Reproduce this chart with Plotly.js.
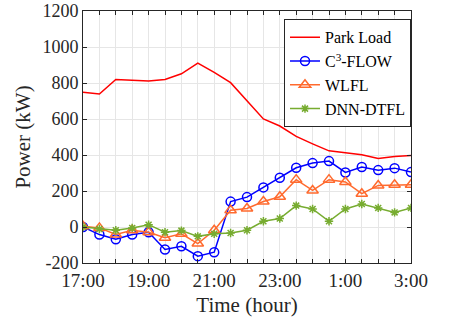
<!DOCTYPE html>
<html>
<head>
<meta charset="utf-8">
<script src="https://cdn.plot.ly/plotly-3.0.1.min.js"></script>
<style>html,body{margin:0;padding:0;background:#fff;}#chart{width:450px;height:323px;}</style>
</head>
<body>
<div id="chart"></div>
<script>
// Time in hours from 17:00 (17 = 17:00, 27 = 3:00 next day)
const hours = [17,17.5,18,18.5,19,19.5,20,20.5,21,21.5,22,22.5,23,23.5,24,24.5,25,25.5,26,26.5,27];
const parkLoad = [748,739,820,817,811,820,851,911,859,802,701,600,561,503,462,423,412,401,381,392,397];
const c3Flow   = [0,-42,-68,-42,-29,-125,-107,-162,-140,141,166,220,274,329,355,366,303,333,316,327,305];
const wlfl     = [4,-5,-42,-18,-29,-60,-38,-92,-18,93,103,142,168,263,203,263,250,185,231,235,235];
const dnnDtfl  = [0,-11,-18,-5,13,-29,-20,-52,-38,-33,-18,32,47,119,100,32,100,128,106,81,106];
const xTickLabels = ["17:00","19:00","21:00","23:00","1:00","3:00"];
const yTickVals = [-200,0,200,400,600,800,1000,1200];
const yTickLabels = ["-200","0","200","400","600","800","1000","1200"];

// every half hour gets a tick/grid line; label every 2 hours
const xTickText = hours.map((h, i) => (i % 4 === 0 ? xTickLabels[i / 4] : ""));

const font = "Liberation Serif, Times New Roman, serif";
const traces = [
  {x: hours, y: parkLoad, name: "Park Load", mode: "lines",
   line: {color: "#ff0000", width: 1.5}},
  {x: hours, y: c3Flow, name: "C<sup>3</sup>-FLOW", mode: "lines+markers",
   line: {color: "#0000ff", width: 1.5},
   marker: {symbol: "circle-open", size: 9, color: "#0000ff", line: {width: 1.5, color: "#0000ff"}}},
  {x: hours, y: wlfl, name: "WLFL", mode: "lines+markers",
   line: {color: "#ff6a2e", width: 1.5},
   marker: {symbol: "triangle-up-open", size: 10, color: "#ff6a2e", line: {width: 1.5, color: "#ff6a2e"}}},
  {x: hours, y: dnnDtfl, name: "DNN-DTFL", mode: "lines+markers",
   line: {color: "#77ac30", width: 1.5},
   marker: {symbol: "asterisk-open", size: 7, color: "#77ac30", line: {width: 1.5, color: "#77ac30"}}}
];

const layout = {
  width: 450, height: 323,
  margin: {l: 83, r: 39, t: 11, b: 59.5, pad: 0},
  paper_bgcolor: "#fff", plot_bgcolor: "#fff",
  font: {family: font, size: 19, color: "#262626"},
  showlegend: true,
  legend: {x: 1, y: 0.967, xanchor: "right", yanchor: "top",
           bgcolor: "#fff", bordercolor: "#262626", borderwidth: 1,
           font: {family: font, size: 16, color: "#000"},
           tracegroupgap: 0, itemwidth: 30},
  xaxis: {
    range: [17, 27], tickmode: "array", tickvals: hours, ticktext: xTickText,
    showgrid: true, gridcolor: "#e6e6e6", gridwidth: 1,
    ticks: "inside", ticklen: 4, tickcolor: "#262626",
    showline: true, linecolor: "#262626", linewidth: 1, mirror: "ticks",
    zeroline: false,
    tickfont: {family: font, size: 19, color: "#262626"},
    title: {text: "Time (hour)", font: {family: font, size: 21, color: "#262626"}, standoff: 7}
  },
  yaxis: {
    range: [-200, 1200], tickmode: "array", tickvals: yTickVals, ticktext: yTickLabels,
    showgrid: true, gridcolor: "#e6e6e6", gridwidth: 1,
    ticks: "inside", ticklen: 4, tickcolor: "#262626",
    showline: true, linecolor: "#262626", linewidth: 1, mirror: "ticks",
    zeroline: false,
    tickfont: {family: font, size: 18, color: "#262626"},
    title: {text: "Power (kW)", font: {family: font, size: 21, color: "#262626"}, standoff: 6}
  }
};

Plotly.newPlot("chart", traces, layout, {displayModeBar: false, staticPlot: true});
</script>
</body>
</html>
